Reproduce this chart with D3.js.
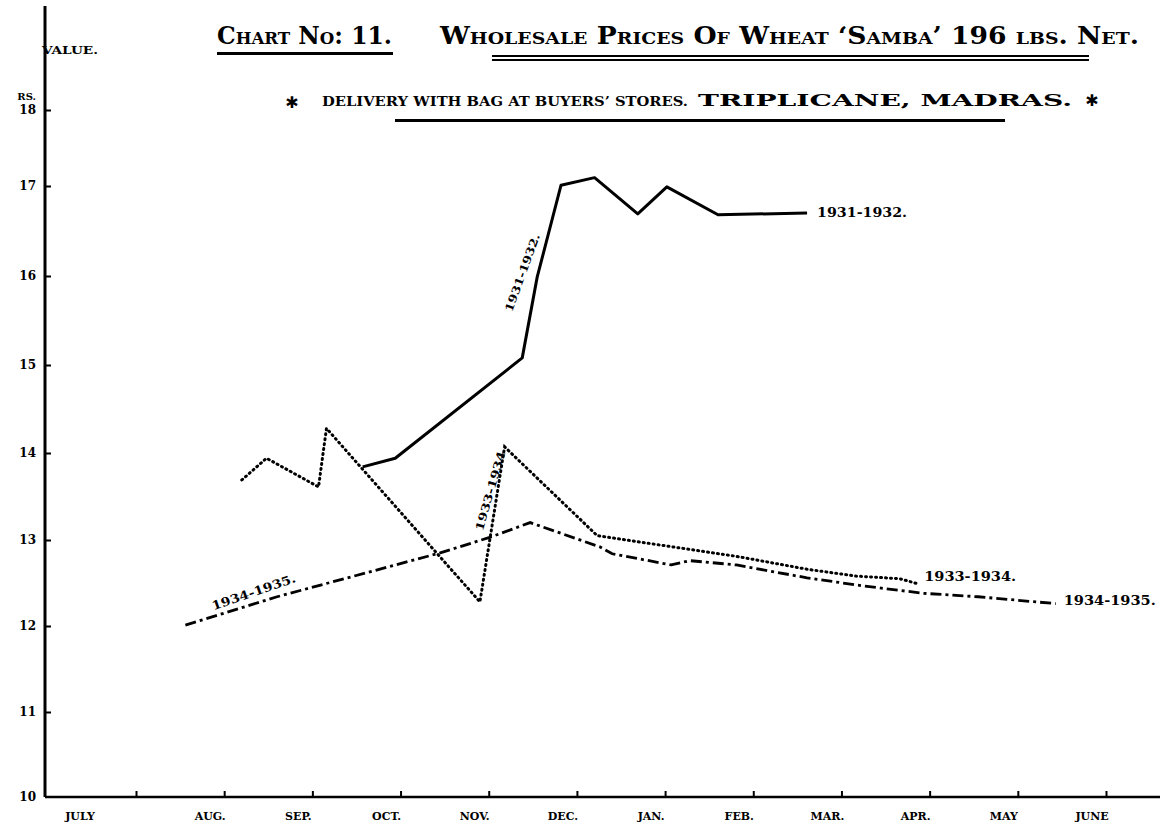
<!DOCTYPE html>
<html>
<head>
<meta charset="utf-8">
<script src="https://cdn.jsdelivr.net/npm/d3@7"></script>
<style>
  body { margin: 0; background: #fff; }
  .chart text { fill: #000; font-family: "DejaVu Serif", serif; font-weight: bold; }
  .axis .domain { display: none; }
  .axis line { stroke: #000; stroke-width: 2; }
</style>
</head>
<body>
<div class="chart"></div>
<script>
// months run July .. June, x values are fractional month positions (0 = July tick)
var months = ["JULY", "AUG.", "SEP.", "OCT.", "NOV.", "DEC.", "JAN.", "FEB.", "MAR.", "APR.", "MAY", "JUNE"];
var yTicks = [10, 11, 12, 13, 14, 15, 16, 17, 18];

var s1931 = [[2.57, 13.84], [2.94, 13.94], [4.38, 15.08], [4.55, 15.99], [4.82, 17.01], [5.20, 17.11],
             [5.69, 16.69], [6.02, 16.99], [6.60, 16.68], [7.61, 16.70]];
var s1933 = [[1.20, 13.69], [1.48, 13.94], [2.07, 13.61], [2.16, 14.28], [3.90, 12.28], [4.18, 14.07],
             [5.23, 13.05], [6.02, 12.93], [6.81, 12.81], [7.61, 12.66], [8.17, 12.58], [8.66, 12.55], [8.87, 12.49]];
var s1934 = [[0.56, 12.01], [1.60, 12.34], [3.45, 12.85], [4.01, 13.03], [4.47, 13.20], [5.26, 12.92],
             [5.40, 12.84], [6.07, 12.71], [6.28, 12.76], [6.81, 12.71], [7.61, 12.56], [8.22, 12.47],
             [8.93, 12.38], [9.55, 12.34], [10.43, 12.26]];

function drawChart() {
    var width = 1160, height = 834;

    var x = d3.scaleLinear().domain([0, 11]).range([136, 1106]);
    // hand drawn scale, the rulings are not quite even
    var y = d3.scaleLinear()
        .domain(yTicks)
        .range([797, 712, 626, 540, 453, 365, 276, 186, 110]);

    var svg = d3.select(".chart")
      .append("svg")
        .attr("width", width)
        .attr("height", height);

    // axes
    svg.append("line")
        .attr("x1", 45).attr("y1", 6)
        .attr("x2", 45).attr("y2", y(10))
        .attr("stroke", "#000").attr("stroke-width", 3);
    svg.append("line")
        .attr("x1", 45).attr("y1", y(10))
        .attr("x2", width).attr("y2", y(10))
        .attr("stroke", "#000").attr("stroke-width", 2.5);

    var yAxis = svg.append("g")
        .attr("class", "axis y")
        .attr("transform", "translate(45,0)")
        .call(d3.axisLeft(y).tickValues(yTicks).tickSize(-6).tickPadding(9).tickFormat(d3.format("d")));
    yAxis.selectAll("text")
        .style("font-size", "12px")
        .style("font-family", "DejaVu Serif, serif")
        .style("font-weight", "bold");
    yAxis.select(".tick line").remove();

    svg.append("g")
        .attr("class", "axis x")
        .attr("transform", "translate(0," + y(10) + ")")
        .call(d3.axisBottom(x).tickValues(d3.range(0, 12)).tickSize(-6).tickFormat(""));

    svg.append("g")
      .selectAll("text")
        .data(months)
        .enter()
        .append("text")
        .attr("x", function(d, i) { return i === 0 ? 80 : x(i) - 14; })
        .attr("y", 820)
        .attr("text-anchor", "middle")
        .style("font-size", "11px")
        .text(function(d) { return d; });

    svg.append("text").attr("x", 36).attr("y", 100).attr("text-anchor", "end")
        .style("font-size", "10px").text("RS.");
    svg.append("text").attr("x", 42).attr("y", 54)
        .style("font-size", "11px").attr("textLength", 56).attr("lengthAdjust", "spacingAndGlyphs")
        .text("VALUE.");

    // titles
    svg.append("text").attr("x", 217).attr("y", 44)
        .style("font-size", "24px").style("font-variant", "small-caps")
        .attr("textLength", 175).attr("lengthAdjust", "spacingAndGlyphs")
        .text("Chart No: 11.");
    svg.append("rect").attr("x", 217).attr("y", 52).attr("width", 176).attr("height", 3);

    svg.append("text").attr("x", 440).attr("y", 44)
        .style("font-size", "24px").style("font-variant", "small-caps")
        .attr("textLength", 699).attr("lengthAdjust", "spacingAndGlyphs")
        .text("Wholesale Prices Of Wheat \u2018Samba\u2019 196 lbs. Net.");
    svg.append("rect").attr("x", 492).attr("y", 55).attr("width", 597).attr("height", 2);
    svg.append("rect").attr("x", 492).attr("y", 59).attr("width", 597).attr("height", 2);

    svg.append("text").attr("x", 292).attr("y", 108).attr("text-anchor", "middle")
        .style("font-family", "DejaVu Sans, sans-serif").style("font-size", "16px").text("\u2731");
    svg.append("text").attr("x", 322).attr("y", 106)
        .style("font-size", "12px").attr("textLength", 366).attr("lengthAdjust", "spacingAndGlyphs")
        .text("DELIVERY WITH BAG AT BUYERS\u2019 STORES.");
    svg.append("text").attr("x", 698).attr("y", 106)
        .style("font-size", "17px").attr("textLength", 374).attr("lengthAdjust", "spacingAndGlyphs")
        .text("TRIPLICANE, MADRAS.");
    svg.append("text").attr("x", 1092).attr("y", 106).attr("text-anchor", "middle")
        .style("font-family", "DejaVu Sans, sans-serif").style("font-size", "16px").text("\u2731");
    svg.append("rect").attr("x", 395).attr("y", 119).attr("width", 610).attr("height", 3);

    // series
    var line = d3.line()
        .x(function(d) { return x(d[0]); })
        .y(function(d) { return y(d[1]); });

    svg.append("path").datum(s1934)
        .attr("d", line).attr("fill", "none").attr("stroke", "#000")
        .attr("stroke-width", 2.8).attr("stroke-dasharray", "11,4,3,4");
    svg.append("path").datum(s1933)
        .attr("d", line).attr("fill", "none").attr("stroke", "#000")
        .attr("stroke-width", 3).attr("stroke-linecap", "round").attr("stroke-dasharray", "1,4");
    svg.append("path").datum(s1931)
        .attr("d", line).attr("fill", "none").attr("stroke", "#000")
        .attr("stroke-width", 3).attr("stroke-linejoin", "round");

    // series labels
    var last31 = s1931[s1931.length - 1], last33 = s1933[s1933.length - 1], last34 = s1934[s1934.length - 1];
    svg.append("text").attr("x", x(last31[0]) + 10).attr("y", y(last31[1]) + 4)
        .style("font-size", "12px").attr("textLength", 90).attr("lengthAdjust", "spacingAndGlyphs")
        .text("1931-1932.");
    svg.append("text").attr("x", x(last33[0]) + 6).attr("y", y(last33[1]) - 3)
        .style("font-size", "12px").attr("textLength", 92).attr("lengthAdjust", "spacingAndGlyphs")
        .text("1933-1934.");
    svg.append("text").attr("x", x(last34[0]) + 8).attr("y", y(last34[1]) + 1)
        .style("font-size", "13px").attr("textLength", 92).attr("lengthAdjust", "spacingAndGlyphs")
        .text("1934-1935.");

    svg.append("text").attr("transform", "translate(526,274) rotate(-70)")
        .attr("text-anchor", "middle").style("font-size", "11px")
        .attr("textLength", 82).attr("lengthAdjust", "spacingAndGlyphs").text("1931-1932.");
    svg.append("text").attr("transform", "translate(494,492) rotate(-74)")
        .attr("text-anchor", "middle").style("font-size", "11px")
        .attr("textLength", 82).attr("lengthAdjust", "spacingAndGlyphs").text("1933-1934");
    svg.append("text").attr("transform", "translate(255,596) rotate(-19)")
        .attr("text-anchor", "middle").style("font-size", "12px")
        .attr("textLength", 88).attr("lengthAdjust", "spacingAndGlyphs").text("1934-1935.");
}

drawChart();
</script>
</body>
</html>
